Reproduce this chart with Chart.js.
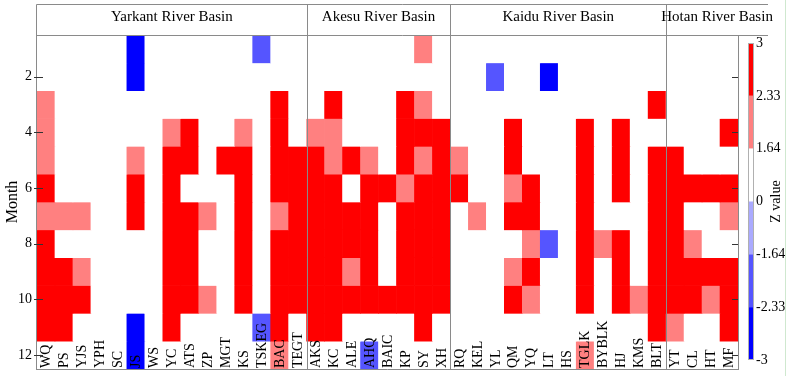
<!DOCTYPE html>
<html>
<head>
<meta charset="utf-8">
<script src="https://cdn.jsdelivr.net/npm/chart.js@4.4.1/dist/chart.umd.min.js"></script>
<style>
  html, body { margin: 0; padding: 0; background: #fff; }
  #wrap { position: relative; width: 787px; height: 376px; }
  #wrap::after { content: ''; position: absolute; right: 1px; top: 0; bottom: 0; width: 1px; background: #cfe8cf; }
</style>
</head>
<body>
<div id="wrap"><canvas id="chart" width="787" height="376"></canvas></div>
<script>
// months on the y axis, ticks shown every second month
const months = [1, 2, 3, 4, 5, 6, 7, 8, 9, 10, 11, 12];
const monthTicks = [2, 4, 6, 8, 10, 12];

// colour classes of the Z value (discrete colorbar)
const zBreaks = [-3, -2.33, -1.64, 0, 1.64, 2.33, 3];
const zColors = ['#0000ff', '#5555ff', '#aaaaff', '#ffffff', '#ff8080', '#ff0000'];

// basins and their stations; Z values per station, months 1..12
const basinNames = ['Yarkant River Basin', 'Akesu River Basin', 'Kaidu River Basin', 'Hotan River Basin'];

const yarkantStations = ['WQ', 'PS', 'YJS', 'YPH', 'SC', 'JS', 'WS', 'YC', 'ATS', 'ZP', 'MGT', 'KS', 'TSKEG', 'BAC', 'TEGT'];
const yarkantZ = [
  [0.8, 0.8, 2.0, 2.0, 2.0, 2.8, 2.0, 2.8, 2.8, 2.8, 2.8, 0.8],
  [0.8, 0.8, 0.8, 0.8, 0.8, 0.8, 2.0, 0.8, 2.8, 2.8, 2.8, 0.8],
  [0.8, 0.8, 0.8, 0.8, 0.8, 0.8, 2.0, 0.8, 2.0, 2.8, 0.8, 0.8],
  [0.8, 0.8, 0.8, 0.8, 0.8, 0.8, 0.8, 0.8, 0.8, 0.8, 0.8, 0.8],
  [0.8, 0.8, 0.8, 0.8, 0.8, 0.8, 0.8, 0.8, 0.8, 0.8, 0.8, 0.8],
  [-2.8, -2.8, 0.8, 0.8, 2.0, 2.8, 2.8, 0.8, 0.8, 0.8, -2.8, -2.8],
  [0.8, 0.8, 0.8, 0.8, 0.8, 0.8, 0.8, 0.8, 0.8, 0.8, 0.8, 0.8],
  [0.8, 0.8, 0.8, 2.0, 2.8, 2.8, 2.8, 2.8, 2.8, 2.8, 2.8, 0.8],
  [0.8, 0.8, 0.8, 2.8, 2.8, 0.8, 2.8, 2.8, 2.8, 2.8, 0.8, 0.8],
  [0.8, 0.8, 0.8, 0.8, 0.8, 0.8, 2.0, 0.8, 0.8, 2.0, 0.8, 0.8],
  [0.8, 0.8, 0.8, 0.8, 2.8, 0.8, 0.8, 0.8, 0.8, 0.8, 0.8, 0.8],
  [0.8, 0.8, 0.8, 2.0, 2.8, 2.8, 2.8, 2.8, 2.8, 2.8, 0.8, 0.8],
  [-2.0, 0.8, 0.8, 0.8, 0.8, 0.8, 0.8, 0.8, 0.8, 0.8, -2.0, 0.8],
  [0.8, 0.8, 2.8, 2.8, 2.8, 2.8, 2.0, 2.8, 2.8, 2.8, 2.8, 2.0],
  [0.8, 0.8, 0.8, 0.8, 2.8, 2.8, 2.8, 2.8, 2.8, 2.8, 0.8, 0.8]
];

const akesuStations = ['AKS', 'KC', 'ALE', 'AHQ', 'BAIC', 'KP', 'SY', 'XH'];
const akesuZ = [
  [0.8, 0.8, 0.8, 2.0, 2.8, 2.8, 2.8, 2.8, 2.8, 2.8, 2.8, 0.8],
  [0.8, 0.8, 2.8, 2.0, 2.0, 2.8, 2.8, 2.8, 2.8, 2.8, 2.8, 0.8],
  [0.8, 0.8, 0.8, 0.8, 2.8, 0.8, 2.8, 2.8, 2.0, 2.8, 0.8, 0.8],
  [0.8, 0.8, 0.8, 0.8, 2.0, 2.8, 2.8, 2.8, 2.8, 2.8, 0.8, -2.0],
  [0.8, 0.8, 0.8, 0.8, 0.8, 2.8, 0.8, 0.8, 0.8, 2.8, 0.8, 0.8],
  [0.8, 0.8, 2.8, 2.8, 2.8, 2.0, 2.8, 2.8, 2.8, 2.8, 0.8, 0.8],
  [2.0, 0.8, 2.0, 2.8, 2.0, 2.8, 2.8, 2.8, 2.8, 2.8, 2.8, 0.8],
  [0.8, 0.8, 0.8, 2.8, 2.8, 2.8, 2.8, 2.8, 2.8, 2.8, 0.8, 0.8]
];

const kaiduStations = ['RQ', 'KEL', 'YL', 'QM', 'YQ', 'LT', 'HS', 'TGLK', 'BYBLK', 'HJ', 'KMS', 'BLT'];
const kaiduZ = [
  [0.8, 0.8, 0.8, 0.8, 2.0, 2.8, 0.8, 0.8, 0.8, 0.8, 0.8, 0.8],
  [0.8, 0.8, 0.8, 0.8, 0.8, 0.8, 2.0, 0.8, 0.8, 0.8, 0.8, 0.8],
  [0.8, -2.0, 0.8, 0.8, 0.8, 0.8, 0.8, 0.8, 0.8, 0.8, 0.8, 0.8],
  [0.8, 0.8, 0.8, 2.8, 2.8, 2.0, 2.8, 0.8, 2.0, 2.8, 0.8, 0.8],
  [0.8, 0.8, 0.8, 0.8, 0.8, 2.8, 2.8, 2.0, 2.8, 2.0, 0.8, 0.8],
  [0.8, -2.8, 0.8, 0.8, 0.8, 0.8, 0.8, -2.0, 0.8, 0.8, 0.8, 0.8],
  [0.8, 0.8, 0.8, 0.8, 0.8, 0.8, 0.8, 0.8, 0.8, 0.8, 0.8, 0.8],
  [0.8, 0.8, 0.8, 2.8, 2.8, 2.8, 2.8, 2.8, 2.8, 2.8, 0.8, 2.0],
  [0.8, 0.8, 0.8, 0.8, 0.8, 0.8, 0.8, 2.0, 0.8, 0.8, 0.8, 0.8],
  [0.8, 0.8, 0.8, 2.8, 2.8, 2.8, 0.8, 2.8, 2.8, 2.8, 0.8, 0.8],
  [0.8, 0.8, 0.8, 0.8, 0.8, 0.8, 0.8, 0.8, 0.8, 2.0, 0.8, 0.8],
  [0.8, 0.8, 2.8, 0.8, 2.8, 2.8, 2.8, 2.8, 2.8, 2.8, 2.8, 0.8]
];

const hotanStations = ['YT', 'CL', 'HT', 'MF'];
const hotanZ = [
  [0.8, 0.8, 0.8, 0.8, 2.8, 2.8, 2.8, 2.8, 2.8, 2.8, 2.0, 0.8],
  [0.8, 0.8, 0.8, 0.8, 0.8, 2.8, 0.8, 2.0, 2.8, 2.8, 0.8, 0.8],
  [0.8, 0.8, 0.8, 0.8, 0.8, 2.8, 0.8, 0.8, 2.8, 2.0, 0.8, 0.8],
  [0.8, 0.8, 0.8, 2.8, 0.8, 2.8, 2.0, 0.8, 2.8, 2.8, 2.8, 0.8]
];

const basinStations = [yarkantStations, akesuStations, kaiduStations, hotanStations];
const stations = [].concat(...basinStations);
const allZ = [].concat(yarkantZ, akesuZ, kaiduZ, hotanZ);

const SERIF = '"Liberation Serif", "DejaVu Serif", serif';
const LINE = '#8a8a8a';

function zColor(z) {
  for (let i = 0; i < zColors.length; i++) {
    if (z >= zBreaks[i] && z < zBreaks[i + 1]) return zColors[i];
  }
  return z < zBreaks[0] ? zColors[0] : zColors[zColors.length - 1];
}

// one floating-bar dataset per month, all stacked on the same x slot
const datasets = months.map((m, mi) => ({
  label: 'Month ' + m,
  data: stations.map(() => [m - 0.5, m + 0.5]),
  backgroundColor: allZ.map(row => zColor(row[mi])),
  borderWidth: 0,
  grouped: false,
  barPercentage: 1,
  categoryPercentage: 1
}));

const decorations = {
  id: 'decorations',
  afterDraw(chart) {
    const { ctx, chartArea: a, scales } = chart;
    const x = scales.x, y = scales.y;
    const colW = x.getPixelForValue(1) - x.getPixelForValue(0);
    const headTop = 4.5, headRight = a.right + 30;
    ctx.save();

    // station labels inside the last row
    ctx.fillStyle = '#000';
    ctx.font = '14px ' + SERIF;
    ctx.textAlign = 'left';
    ctx.textBaseline = 'middle';
    stations.forEach((s, i) => {
      ctx.save();
      ctx.translate(x.getPixelForValue(i) + 0.5, a.bottom - 1);
      ctx.rotate(-Math.PI / 2);
      ctx.fillText(s, 0, 0);
      ctx.restore();
    });

    // frame, header band and basin separators
    ctx.strokeStyle = LINE;
    ctx.lineWidth = 1;
    ctx.beginPath();
    ctx.moveTo(a.left - 0.5, headTop); ctx.lineTo(headRight, headTop);
    ctx.moveTo(a.left - 0.5, Math.round(a.top) + 0.5); ctx.lineTo(headRight, Math.round(a.top) + 0.5);
    ctx.moveTo(a.left - 0.5, headTop); ctx.lineTo(a.left - 0.5, a.bottom + 1);
    ctx.moveTo(a.left - 0.5, a.bottom + 0.5); ctx.lineTo(a.right + 0.5, a.bottom + 0.5);
    ctx.moveTo(a.right + 0.5, a.top); ctx.lineTo(a.right + 0.5, a.bottom + 1);
    let idx = 0;
    const spans = [];
    basinStations.forEach((list, bi) => {
      const left = x.getPixelForValue(idx) - colW / 2;
      idx += list.length;
      const right = bi === basinStations.length - 1 ? headRight : x.getPixelForValue(idx - 1) + colW / 2;
      spans.push([left, right]);
      if (bi < basinStations.length - 1) {
        const px = Math.round(right) + 0.5;
        ctx.moveTo(px, headTop); ctx.lineTo(px, a.bottom + 1);
      }
    });
    ctx.stroke();

    ctx.font = '15px ' + SERIF;
    ctx.textAlign = 'center';
    ctx.textBaseline = 'alphabetic';
    basinNames.forEach((n, i) => {
      ctx.fillText(n, (spans[i][0] + spans[i][1]) / 2, 21);
    });

    // inward month ticks on both sides
    ctx.strokeStyle = '#333';
    ctx.beginPath();
    monthTicks.forEach(v => {
      const py = Math.round(y.getPixelForValue(v)) + 0.5;
      ctx.moveTo(a.left - 3, py); ctx.lineTo(a.left + 6, py);
      ctx.moveTo(a.right - 6, py); ctx.lineTo(a.right, py);
    });
    ctx.stroke();

    // y axis title
    ctx.save();
    ctx.translate(13, (a.top + a.bottom) / 2);
    ctx.rotate(-Math.PI / 2);
    ctx.font = '16px ' + SERIF;
    ctx.textBaseline = 'middle';
    ctx.fillText('Month', 0, 0);
    ctx.restore();

    // discrete colorbar
    const cbX = 748, cbW = 6, cbTop = 43, cbBot = 360;
    const seg = (cbBot - cbTop) / zColors.length;
    for (let i = 0; i < zColors.length; i++) {
      ctx.fillStyle = zColors[zColors.length - 1 - i];
      ctx.fillRect(cbX, cbTop + i * seg, cbW, seg);
    }
    ctx.strokeStyle = '#b0b0b0';
    ctx.strokeRect(cbX + 0.5, cbTop + 0.5, cbW - 1, cbBot - cbTop - 1);
    ctx.fillStyle = '#000';
    ctx.font = '14px ' + SERIF;
    ctx.textAlign = 'left';
    ctx.textBaseline = 'middle';
    zBreaks.slice().reverse().forEach((b, i) => {
      ctx.fillText(String(b), cbX + cbW + 2, cbTop + i * seg);
    });
    ctx.save();
    ctx.translate(776, (cbTop + cbBot) / 2);
    ctx.rotate(-Math.PI / 2);
    ctx.textAlign = 'center';
    ctx.fillText('Z value', 0, 0);
    ctx.restore();

    ctx.restore();
  }
};

new Chart(document.getElementById('chart'), {
  type: 'bar',
  data: { labels: stations, datasets: datasets },
  options: {
    responsive: false,
    animation: false,
    layout: { padding: { top: 35, right: 49, bottom: 7, left: 0 } },
    plugins: { legend: { display: false }, tooltip: { enabled: false } },
    scales: {
      x: { type: 'category', display: false, offset: true, grid: { display: false } },
      y: {
        min: 0.5,
        max: 12.5,
        reverse: true,
        afterBuildTicks: s => { s.ticks = monthTicks.map(v => ({ value: v })); },
        afterFit: s => { s.width = 37; s.paddingTop = 0; s.paddingBottom = 0; },
        grid: { display: false, drawTicks: false },
        border: { display: false },
        ticks: { color: '#000', padding: 5, font: { family: SERIF, size: 14 } }
      }
    }
  },
  plugins: [decorations]
});
</script>
</body>
</html>
